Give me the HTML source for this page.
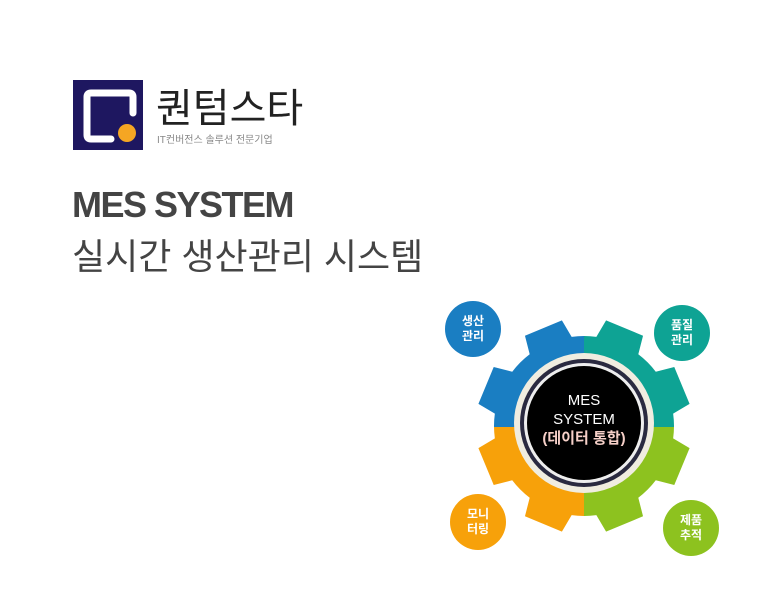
<!DOCTYPE html>
<html><head><meta charset="utf-8"><style>
body{margin:0;width:780px;height:600px;background:#fff;overflow:hidden;position:relative;font-family:"Liberation Sans","Noto Sans CJK KR",sans-serif}
.a{position:absolute;white-space:nowrap}
</style></head><body>
<svg class="a" style="left:0;top:0" width="780" height="600">
<rect x="73" y="80" width="70" height="70" fill="#1e1760"/>
<path d="M111 139 H91 Q87 139 87 135 V97 Q87 93 91 93 H129 Q133 93 133 97 V113" fill="none" stroke="#fff" stroke-width="7" stroke-linecap="round"/>
<circle cx="127" cy="133" r="9" fill="#f5a623"/>
<defs>
<clipPath id="g">
<circle cx="584" cy="426" r="90"/>
<path id="t" d="M560 348 L564 320 H604 L608 348 Z" transform="rotate(22.5 584 426)"/>
<path d="M560 348 L564 320 H604 L608 348 Z" transform="rotate(67.5 584 426)"/>
<path d="M560 348 L564 320 H604 L608 348 Z" transform="rotate(112.5 584 426)"/>
<path d="M560 348 L564 320 H604 L608 348 Z" transform="rotate(157.5 584 426)"/>
<path d="M560 348 L564 320 H604 L608 348 Z" transform="rotate(202.5 584 426)"/>
<path d="M560 348 L564 320 H604 L608 348 Z" transform="rotate(247.5 584 426)"/>
<path d="M560 348 L564 320 H604 L608 348 Z" transform="rotate(292.5 584 426)"/>
<path d="M560 348 L564 320 H604 L608 348 Z" transform="rotate(337.5 584 426)"/>
</clipPath>
</defs>
<g clip-path="url(#g)">
<rect x="470" y="310" width="114" height="117" fill="#1a7ec2"/>
<rect x="584" y="310" width="114" height="117" fill="#0ea394"/>
<rect x="470" y="427" width="114" height="116" fill="#f7a10a"/>
<rect x="584" y="427" width="114" height="116" fill="#8dc21f"/>
</g>
<circle cx="584" cy="423" r="70" fill="#f0ede0"/>
<circle cx="584" cy="423" r="64" fill="#2a2a40"/>
<circle cx="584" cy="423" r="60" fill="#eee"/>
<circle cx="584" cy="423" r="57" fill="#000"/>
<text x="584" y="405" fill="#fff" font-size="15" text-anchor="middle" font-family="Liberation Sans,Noto Sans CJK KR,sans-serif">MES</text>
<text x="584" y="424" fill="#fff" font-size="15" text-anchor="middle" font-family="Liberation Sans,Noto Sans CJK KR,sans-serif">SYSTEM</text>
<text x="584" y="443" fill="#f6d0c8" font-size="15" font-weight="bold" text-anchor="middle" font-family="Liberation Sans,Noto Sans CJK KR,sans-serif">(데이터 통합)</text>
<g font-size="12" font-weight="bold" fill="#fff" text-anchor="middle" font-family="Liberation Sans,Noto Sans CJK KR,sans-serif">
<circle cx="473" cy="329" r="28" fill="#1a7ec2"/><text x="473" y="325">생산</text><text x="473" y="340">관리</text>
<circle cx="682" cy="333" r="28" fill="#0ea394"/><text x="682" y="329">품질</text><text x="682" y="344">관리</text>
<circle cx="478" cy="522" r="28" fill="#f7a10a"/><text x="478" y="518">모니</text><text x="478" y="533">터링</text>
<circle cx="691" cy="528" r="28" fill="#8dc21f"/><text x="691" y="524">제품</text><text x="691" y="539">추적</text>
</g>
</svg>
<div class="a" style="left:156px;top:76px;font-size:40px;color:#222">퀀텀스타</div>
<div class="a" style="left:157px;top:131px;font-size:10px;color:#888">IT컨버전스 솔루션 전문기업</div>
<div class="a" style="left:72px;top:184px;font-size:36px;font-weight:bold;color:#444;letter-spacing:-1.5px">MES SYSTEM</div>
<div class="a" style="left:72px;top:228px;font-size:36px;color:#444">실시간 생산관리 시스템</div>
</body></html>
